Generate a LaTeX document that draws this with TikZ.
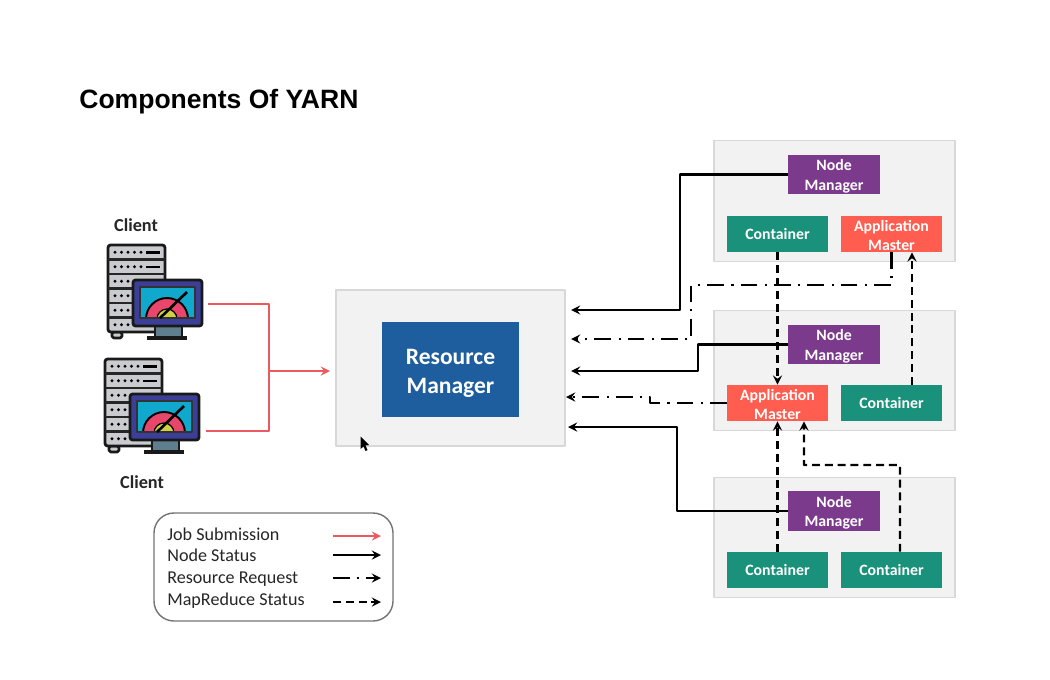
\documentclass[tikz,border=0pt]{standalone}
\usepackage{fontspec}
\setmainfont{Carlito}
\newfontfamily\titlefont{Liberation Sans}
\definecolor{panelgray}{HTML}{F2F2F2}
\definecolor{panelline}{HTML}{D8D8D8}
\definecolor{rmblue}{HTML}{1F5E9E}
\definecolor{nmpurple}{HTML}{7C3A8D}
\definecolor{contgreen}{HTML}{1A917A}
\definecolor{amred}{HTML}{FF5D4F}
\definecolor{jobred}{HTML}{EC5A60}
\definecolor{rackgray}{HTML}{C9CBCE}
\definecolor{screencyan}{HTML}{10A8CC}
\definecolor{framenavy}{HTML}{3B3F98}
\definecolor{standgray}{HTML}{5F7F8E}
\definecolor{gaugered}{HTML}{E8476B}
\definecolor{gaugeyellow}{HTML}{CFD23C}
\tikzset{
	clienticon/.pic={
		% server rack
		\draw[fill=rackgray,draw=black!90,line width=1.5pt,rounded corners=1pt] (4,87) rectangle (14,93);
		\draw[fill=rackgray,draw=black!90,line width=1.6pt,rounded corners=1.5pt] (0,0) rectangle (57,87);
		\foreach \r in {1,...,5} \draw[draw=black!85,line width=1.2pt] (0,14.5*\r)--(57,14.5*\r);
		\foreach \r in {0,1} {
			\foreach \c in {0,...,4} \fill (7+6.5*\c,7.2+14.5*\r) circle (1.6);
			\draw[line width=1.3pt] (38,7.5+14.5*\r)--(52,7.5+14.5*\r);
		}
		\foreach \r in {2,...,5} \foreach \c in {0,1,2} \fill (7+6.5*\c,7.2+14.5*\r) circle (1.6);
		% monitor
		\fill[black!90] (39,91) rectangle (79,94.5);
		\draw[fill=standgray,draw=black!90,line width=1.3pt] (47,81) rectangle (74,92);
		\draw[fill=framenavy,draw=black!90,line width=1.6pt,rounded corners=1.5pt] (25,35) rectangle (94,81);
		\begin{scope}
			\clip (32,42) rectangle (87,73);
			\fill[screencyan] (32,42) rectangle (87,73);
			\draw[fill=gaugered,line width=1.1pt] (38,74) arc[start angle=180,end angle=0,radius=0.42cm]--cycle;
			\draw[fill=gaugeyellow,line width=.7pt] (49,74) arc[start angle=180,end angle=0,radius=0.2cm]--cycle;
		\end{scope}
		\draw[draw=black!80,line width=1pt] (32,42) rectangle (87,73);
		\draw[line width=1.5pt] (52,73)--(79,47);
	}
}
\begin{document}
\begin{tikzpicture}[x=0.02cm,y=-0.02cm,>=stealth,line join=round,
	panel/.style={draw=panelline,fill=panelgray,line width=.8pt,inner sep=0pt,minimum width=241*0.02cm,minimum height=120.5*0.02cm},
	tagbox/.style={inner sep=0pt,text=white,align=center,font=\fontsize{9}{11.2}\selectfont\bfseries},
	twolines/.style={execute at begin node={\rule{0pt}{#1}}},
	nodemgr/.style={tagbox,twolines=19.4pt,fill=nmpurple,minimum width=92*0.02cm,minimum height=39.5*0.02cm},
	contbox/.style={tagbox,fill=contgreen,minimum width=101*0.02cm,minimum height=36*0.02cm},
	appmaster/.style={tagbox,twolines=19.4pt,fill=amred,minimum width=101*0.02cm,minimum height=36*0.02cm},
	clientlab/.style={font=\fontsize{10.4}{12}\selectfont\bfseries,text=black!85},
	legtext/.style={anchor=base west,inner sep=0pt,text=black!85,font=\fontsize{10.3}{12}\selectfont},
	jobline/.style={draw=jobred,line width=1.3pt},
	statusline/.style={->,line width=1.3pt},
	requestline/.style={->,line width=1.3pt,dash pattern=on 9.5pt off 4pt on 1.2pt off 4.3pt},
	mapline/.style={->,line width=1.3pt,dash pattern=on 4.5pt off 2.8pt}]
	\useasboundingbox (0,0) rectangle (1050,679);
	\node[anchor=base west,inner sep=0pt,font=\titlefont\fontsize{15.1}{18}\selectfont\bfseries] (title) at (79,109) {Components Of YARN};
	
	% clients
	\node[clientlab] (clientAlab) at (136,225) {Client};
	\node[clientlab] (clientBlab) at (142,482) {Client};
	\pic (clientA) at (108,245) {clienticon};
	\pic (clientB) at (105,359) {clienticon};
	
	% resource manager
	\node[draw=panelline,fill=panelgray,line width=.8pt,minimum width=229*0.02cm,minimum height=156*0.02cm,inner sep=0pt] (rmpanel) at (450.5,368) {};
	\node[fill=rmblue,text=white,align=center,inner sep=0pt,minimum width=137*0.02cm,minimum height=95*0.02cm,font=\fontsize{13.4}{16.4}\selectfont\bfseries,twolines=29.5pt] (rm) at (450.5,369.5) {Resource\\Manager};
	
	% worker panels
	\node[panel] (panelA) at (834.5,201) {};
	\node[panel] (panelB) at (834.5,370.5) {};
	\node[panel] (panelC) at (834.5,537.5) {};
	\node[nodemgr] (nmA) at (834,174.5) {Node\\Manager};
	\node[contbox] (contA) at (777.5,234) {Container};
	\node[appmaster] (amA) at (891.5,234) {Application\\Master};
	\node[nodemgr] (nmB) at (834,344.5) {Node\\Manager};
	\node[appmaster] (amB) at (777.5,403) {Application\\Master};
	\node[contbox] (contB) at (891.5,403) {Container};
	\node[nodemgr] (nmC) at (834,511) {Node\\Manager};
	\node[contbox] (contC) at (777.5,570) {Container};
	\node[contbox] (contD) at (891.5,570) {Container};
	
	% job submission
	\coordinate (clientAout) at (208,304);
	\coordinate (clientBout) at (206,431);
	\coordinate (busB) at (269,431);
	\coordinate (busM) at (269,371);
	\coordinate (rmin) at (330,371);
	\draw[jobline] (clientAout)-|(busB)--(clientBout);
	\draw[jobline,->] (busM)--(rmin);
	
	% node status
	\coordinate (rmA) at (571,310);
	\coordinate (rmB) at (571,371);
	\coordinate (rmC) at (568,427);
	\draw[statusline] (nmA.west)-|(680,310)--(rmA);
	\draw[statusline] (nmB.west)-|(698,371)--(rmB);
	\draw[statusline] (nmC.west)-|(677,427)--(rmC);
	
	% resource request
	\coordinate (rqA) at (571,339);
	\coordinate (rqB) at (566,397);
	\draw[requestline] (amA.south)|-(691,285)|-(rqA);
	\draw[requestline] (amB.west)-|(650,397)--(rqB);
	
	% mapreduce status
	\draw[mapline] (contA.south)--(amB.north);
	\draw[mapline] ([xshift=0.41cm]contB.north)--([xshift=0.41cm]amA.south);
	\draw[mapline] (contC.north)--(amB.south);
	\draw[mapline] ([xshift=0.17cm]contD.north)|-(804,465)--([xshift=0.53cm]amB.south);
	
	% legend
	\node[draw=black!55,line width=.8pt,rounded corners=0.4cm,minimum width=239*0.02cm,minimum height=108*0.02cm,inner sep=0pt] (legend) at (273.5,567) {};
	\node[legtext] (legA) at (167,540) {Job Submission};
	\node[legtext] (legB) at (167,561.5) {Node Status};
	\node[legtext] (legC) at (167,583) {Resource Request};
	\node[legtext] (legD) at (167,605) {MapReduce Status};
	\foreach \n/\yy in {A/536,B/555,C/578,D/602} {
		\coordinate (from\n) at (333,\yy);
		\coordinate (to\n) at (381,\yy);
	}
	\draw[jobline,->] (fromA)--(toA);
	\draw[statusline] (fromB)--(toB);
	\draw[requestline] (fromC)--(toC);
	\draw[mapline] (fromD)--(toD);
	
	% mouse pointer
	\fill[black] (360.5,436.5)--(360.5,449)--(363.5,446.5)--(365.5,451)--(367.5,450)--(365.5,445.5)--(369,445)--cycle;
\end{tikzpicture}
\end{document}
